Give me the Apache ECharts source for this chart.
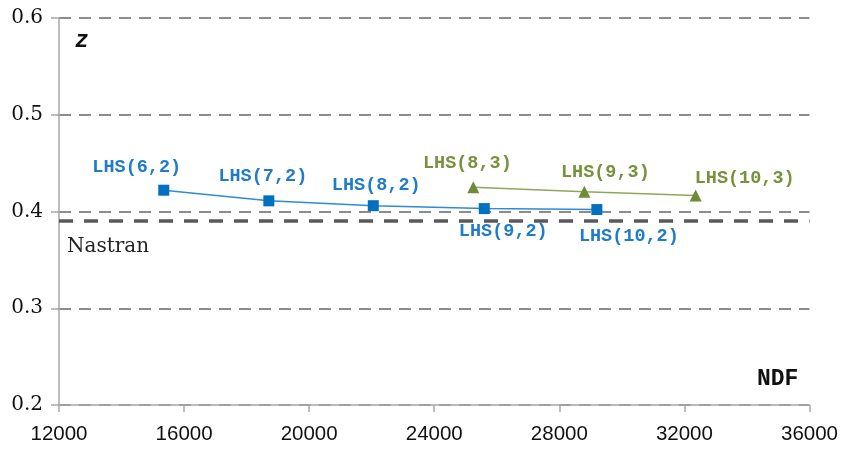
<!DOCTYPE html>
<html>
<head>
<meta charset="utf-8">
<script src="https://cdn.jsdelivr.net/npm/echarts@6/dist/echarts.min.js"></script>
<style>
  html, body { margin: 0; padding: 0; background: #fff; }
  #chart { width: 841px; height: 449px; }
</style>
</head>
<body>
<div id="chart"></div>
<script>
// Two-sample designs: NDF vs z
const ndf2 = [15350, 18710, 22050, 25600, 29200];
const z2 = [0.422, 0.411, 0.406, 0.403, 0.402];
const names2 = ['LHS(6,2)', 'LHS(7,2)', 'LHS(8,2)', 'LHS(9,2)', 'LHS(10,2)'];

// Three-sample designs
const ndf3 = [25250, 28800, 32360];
const z3 = [0.425, 0.4205, 0.4165];
const names3 = ['LHS(8,3)', 'LHS(9,3)', 'LHS(10,3)'];

// Reference value
const nastranZ = 0.3905;

// Axis ticks
const xTicks = [12000, 16000, 20000, 24000, 28000, 32000, 36000];
const yTicks = [0.2, 0.3, 0.4, 0.5, 0.6];

// Label placement relative to each marker (pixels)
const offsets2 = [[-27, -23], [-6, -25], [3, -20], [19, 23], [32, 27]];
const offsets3 = [[-6, -24], [21, -19], [49, -17]];

const labelFont = { fontFamily: 'Liberation Mono', fontSize: 18.5, fontWeight: 'bold' };

function points(xs, ys, names, offs) {
  return xs.map((x, i) => ({
    value: [x, ys[i]],
    name: names[i],
    label: { offset: offs[i] }
  }));
}

const chart = echarts.init(document.getElementById('chart'), null, { renderer: 'canvas' });

chart.setOption({
  animation: false,
  grid: { left: 59, right: 31, top: 18, bottom: 44 },
  xAxis: {
    type: 'value',
    min: xTicks[0],
    max: xTicks[xTicks.length - 1],
    interval: 4000,
    axisLine: { show: true, lineStyle: { color: '#a6a6a6', width: 1.5 } },
    axisTick: { show: true, length: 7, lineStyle: { color: '#a6a6a6', width: 1.5 } },
    axisLabel: {
      fontFamily: 'Liberation Sans', fontSize: 20.5, color: '#111', margin: 19,
      formatter: v => String(v)
    },
    splitLine: { show: false }
  },
  yAxis: {
    type: 'value',
    min: yTicks[0],
    max: yTicks[yTicks.length - 1],
    interval: 0.1,
    axisLine: { show: true, lineStyle: { color: '#a6a6a6', width: 1.5 } },
    axisTick: { show: true, length: 8, lineStyle: { color: '#a6a6a6', width: 1.5 } },
    axisLabel: {
      fontFamily: 'DejaVu Serif', fontSize: 20, color: '#111', margin: 16,
      formatter: v => v.toFixed(1)
    },
    splitLine: { show: true, lineStyle: { color: '#8c8c8c', width: 2, type: [12, 8] } }
  },
  graphic: [
    {
      type: 'text', left: 75, top: 30,
      style: { text: 'z', fontFamily: 'Liberation Mono', fontSize: 23, fontWeight: 'bold', fontStyle: 'italic', fill: '#111' }
    },
    {
      type: 'text', left: 757, top: 368,
      style: { text: 'NDF', fontFamily: 'Liberation Mono', fontSize: 23, fontWeight: 'bold', fill: '#111' }
    }
  ],
  series: [
    {
      type: 'line',
      data: points(ndf2, z2, names2, offsets2),
      symbol: 'rect',
      symbolSize: 11,
      itemStyle: { color: '#0070C0' },
      lineStyle: { color: '#2E8BD6', width: 1.5 },
      label: {
        show: true, position: 'inside', formatter: p => p.name,
        color: '#1F7CC8', ...labelFont
      },
      markLine: {
        silent: true,
        symbol: 'none',
        data: [{ yAxis: nastranZ }],
        lineStyle: { color: '#595959', width: 3.5, type: [14, 11] },
        label: {
          show: true, formatter: 'Nastran', position: 'insideStartBottom',
          fontFamily: 'DejaVu Serif', fontSize: 20, color: '#222', distance: [8, 16]
        }
      },
      z: 3
    },
    {
      type: 'line',
      data: points(ndf3, z3, names3, offsets3),
      symbol: 'triangle',
      symbolSize: 12,
      itemStyle: { color: '#6E8B35' },
      lineStyle: { color: '#8DA85A', width: 1.5 },
      label: {
        show: true, position: 'inside', formatter: p => p.name,
        color: '#76923C', ...labelFont
      },
      z: 3
    }
  ]
});
</script>
</body>
</html>
